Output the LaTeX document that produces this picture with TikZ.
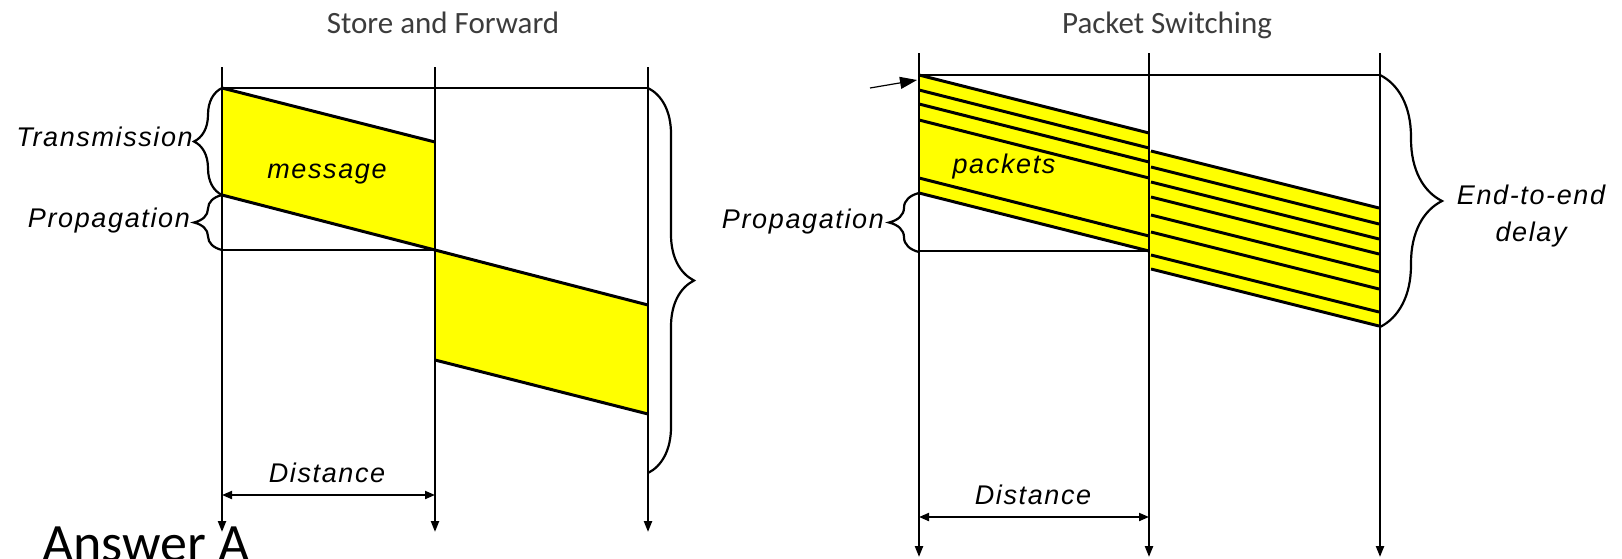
\documentclass[tikz,border=0pt]{standalone}
\usepackage{fontspec}
\usetikzlibrary{arrows.meta,positioning,calc,decorations.pathreplacing}
\setmainfont{Carlito}
\newfontfamily\labelfont[LetterSpace=6.0]{Liberation Sans}
\definecolor{pktyellow}{RGB}{255,255,0}
\definecolor{titlegray}{RGB}{60,60,60}

\begin{document}
\begin{tikzpicture}[x=1pt,y=-1pt,
  timeline/.style={line width=2.2pt,-{Triangle[length=11pt,width=8pt]}},
  slant/.style={line width=3pt},
  guide/.style={line width=1.5pt},
  dist/.style={line width=1.9pt,{Triangle[length=10pt,width=8pt]}-{Triangle[length=10pt,width=8pt]}},
  delaybrace/.style={decorate,decoration={brace,amplitude=#1},line width=2.2pt},
  lbl/.style={font=\labelfont\itshape\fontsize{27}{32}\selectfont,inner sep=0pt},
  ttl/.style={font=\fontsize{31}{37}\selectfont,text=titlegray,inner sep=0pt}]
\useasboundingbox (0,0) rectangle (1622,558);
% store and forward
\node[ttl,anchor=base] (sfttl) at (443,33) {Store and Forward};
\foreach \n/\x in {sa/222,sb/435,sc/648}{
\coordinate (\n top) at (\x,67);
\coordinate (\n bot) at (\x,532);}
\fill[pktyellow] (222,88) -- (435,142) -- (435,250) -- (222,195) -- cycle;
\fill[pktyellow] (435,250) -- (648,305) -- (648,414) -- (435,360) -- cycle;
\draw[slant] (222,88) -- (435,142) (222,195) -- (435,250) -- (648,305) (435,360) -- (648,414);
\draw[guide] (222,88) -- (648,88) (222,250) -- (435,250);
\foreach \n in {sa,sb,sc} \draw[timeline] (\n top) -- (\n bot);
\draw[delaybrace=28pt] (222,195) -- (222,88);
\draw[delaybrace=28pt] (222,250) -- (222,195);
\draw[delaybrace=46pt] (648,88) -- (648,473);
\node[lbl,anchor=base east] (sftrans) at (193,146) {Transmission};
\node[lbl,anchor=base east] (sfprop) at (190,227) {Propagation};
\node[lbl,anchor=base] (msg) at (327,178) {message};
\coordinate (sfdl) at (222,495);
\coordinate (sfdr) at (435,495);
\draw[dist] (sfdl) -- (sfdr);
\node[lbl,anchor=base] (sfdist) at (327,482) {Distance};
\node[anchor=base west,font=\fontsize{54}{60}\selectfont,inner sep=0pt] (ans) at (42,561) {Answer A};
% packet switching
\node[ttl,anchor=base] (psttl) at (1167,33) {Packet Switching};
\foreach \n/\x in {pa/919,pb/1149,pc/1380}{
\coordinate (\n top) at (\x,53);
\coordinate (\n bot) at (\x,557);}
\fill[pktyellow] (919,75) -- (1149,133) -- (1149,251) -- (919,193) -- cycle;
\fill[pktyellow] (1150,151) -- (1380,208) -- (1380,326) -- (1150,269) -- cycle;
\foreach \y in {75,90,104,120,178,193} \draw[slant] (919,\y) -- (1149,{\y+58});
\foreach \y in {151,167,182,197,215,232,255,269} \draw[slant] (1151,\y) -- (1379,{\y+57});
\draw[guide] (919,75) -- (1380,75) (919,251) -- (1149,251);
\foreach \n in {pa,pb,pc} \draw[timeline] (\n top) -- (\n bot);
\coordinate (feed) at (870,88);
\coordinate (first) at (917,80);
\draw[line width=1.2pt,-{Triangle[length=17pt,width=12pt]}] (feed) -- (first);
\draw[delaybrace=30pt] (919,252) -- (919,193);
\draw[delaybrace=62pt] (1380,75) -- (1380,327);
\node[lbl,anchor=base east] (psprop) at (884,228) {Propagation};
\node[lbl,anchor=base] (pkts) at (1004,173) {packets};
\node[lbl,align=center] (e2e) at (1531,216) {End-to-end\\[5pt]delay};
\coordinate (psdl) at (919,517);
\coordinate (psdr) at (1149,517);
\draw[dist] (psdl) -- (psdr);
\node[lbl,anchor=base] (psdist) at (1033,504) {Distance};
\end{tikzpicture}
\end{document}
